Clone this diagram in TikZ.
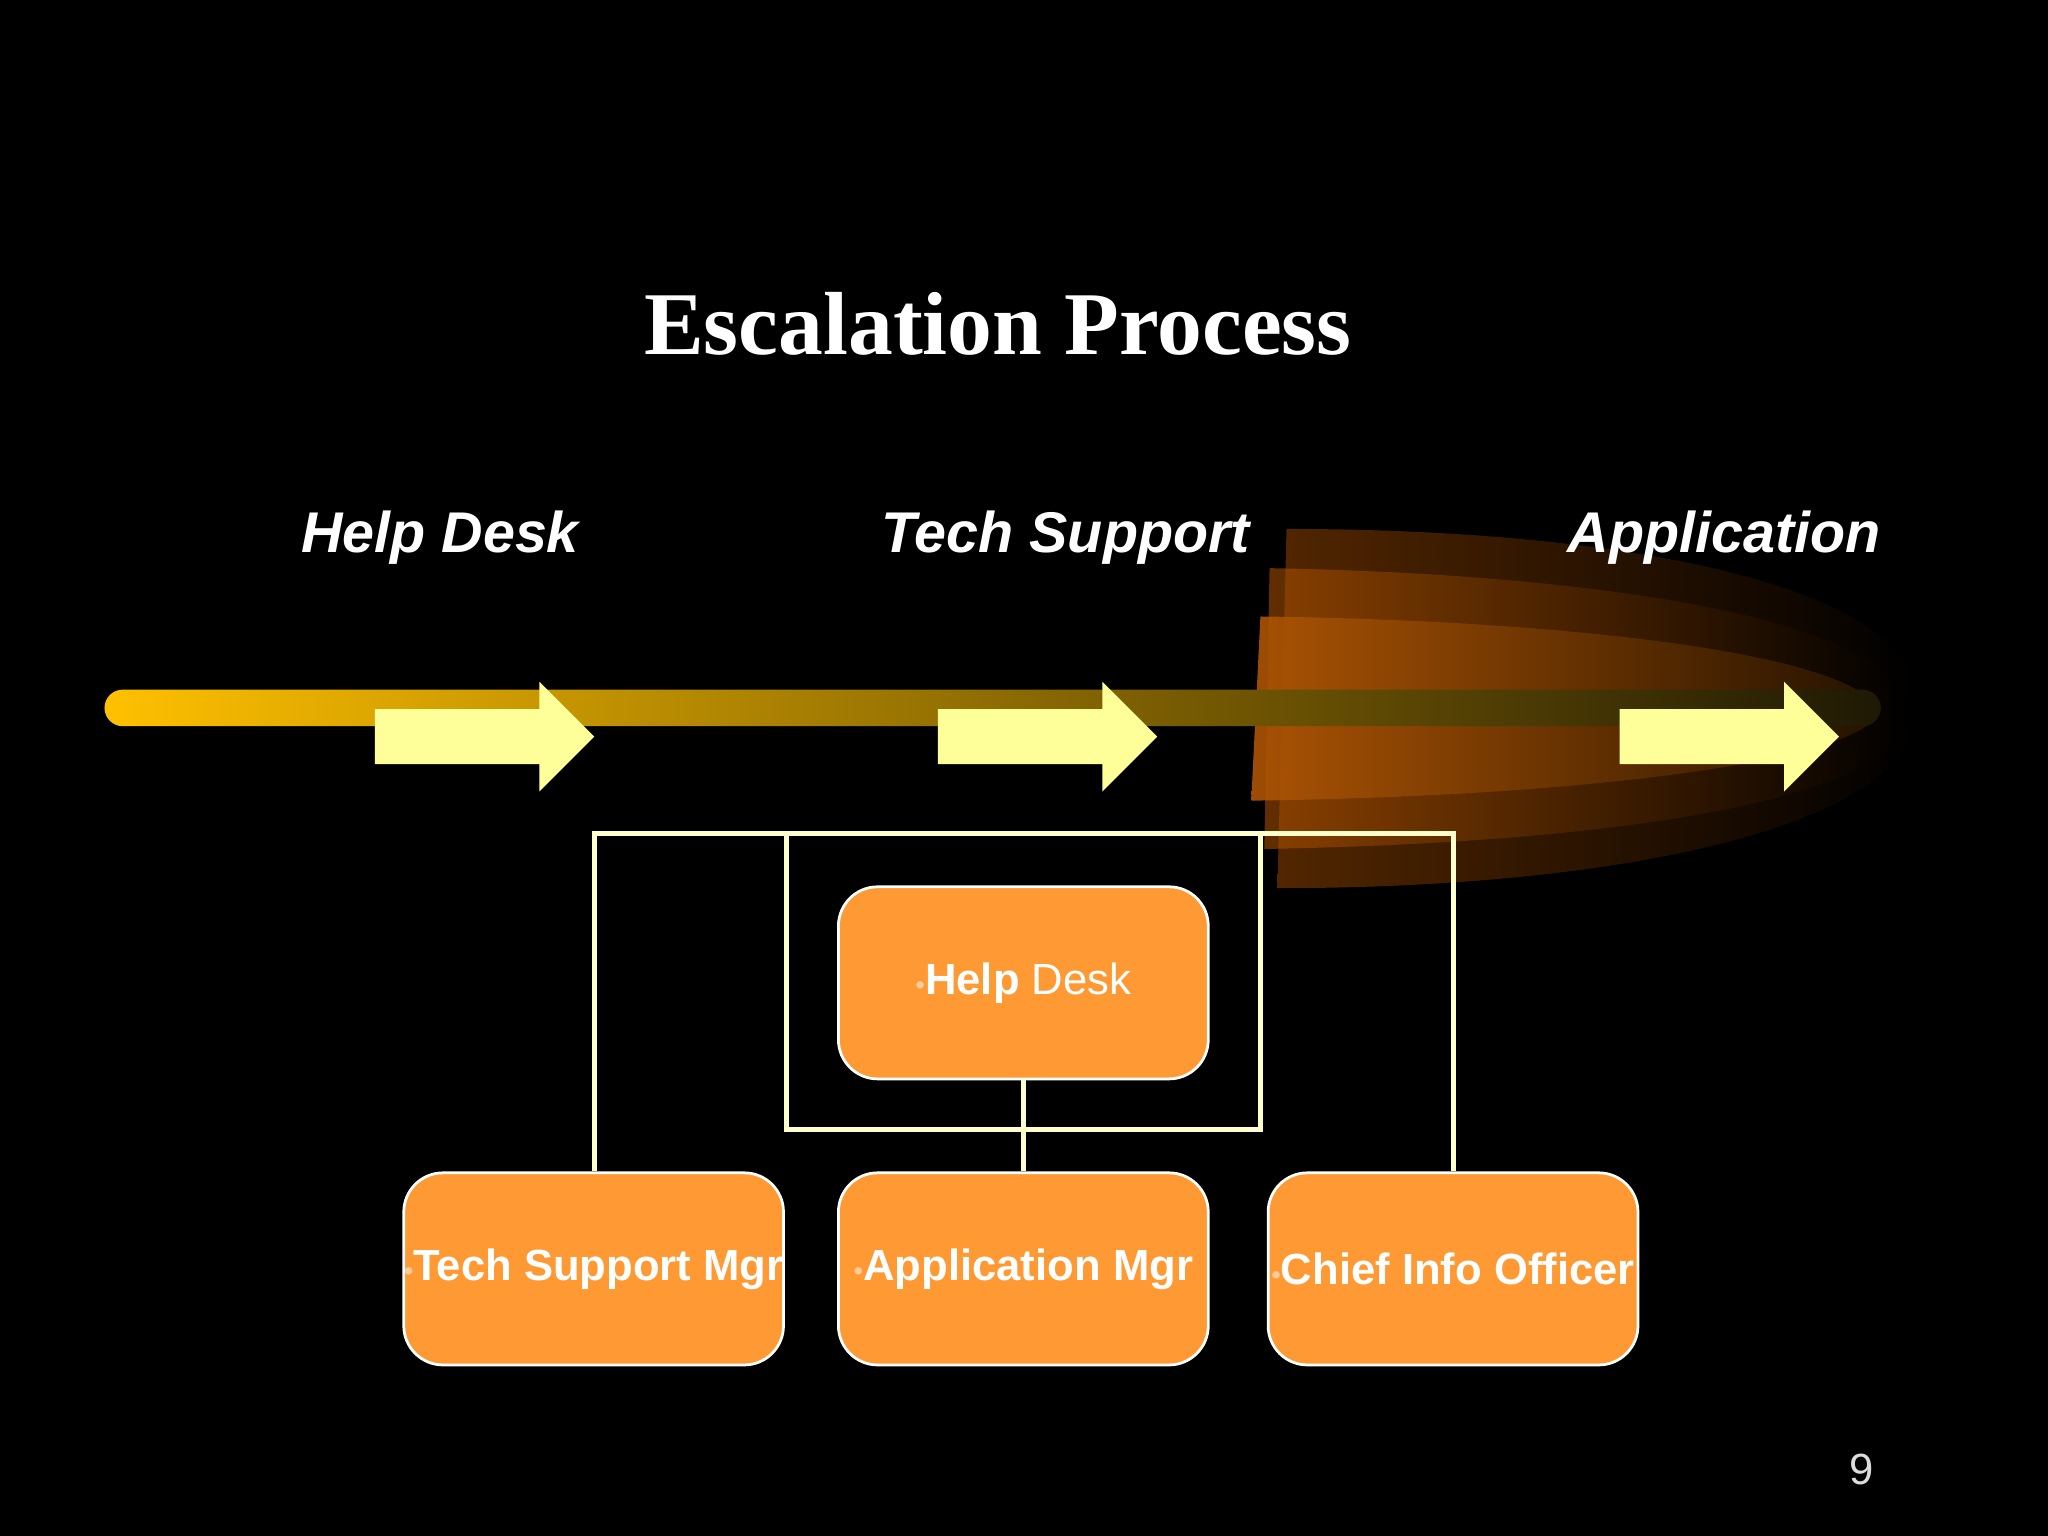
\documentclass[tikz,border=0pt]{standalone}
\usepackage{fontspec}
\setmainfont{Liberation Sans}
\newfontfamily\serifbf{Liberation Serif}
\usetikzlibrary{calc}
\definecolor{boxor}{HTML}{FF9933}
\definecolor{pale}{HTML}{FFFFCC}
\definecolor{arr}{HTML}{FFFF99}
\definecolor{bul}{HTML}{FFCC99}
\tikzset{
  box/.style={draw=white, line width=0.6pt, fill=boxor, rounded corners=0.3cm,
    minimum width=2.83cm, minimum height=1.47cm, inner sep=0pt, text=white,
    font=\fontsize{9.5}{11}\selectfont},
  conn/.style={draw=pale, line width=1.1pt},
  lbl/.style={text=white, font=\fontsize{12.5}{14}\selectfont\bfseries\itshape},
  barrow/.style={fill=arr, draw=none},
}
\newcommand{\bl}{{\color{bul}\fontsize{6}{7}\selectfont\textbullet}}
\begin{document}
\begin{tikzpicture}[x=0.01cm,y=-0.01cm]
\fill[black] (0,0) rectangle (1568,1176);
\useasboundingbox (0,0) rectangle (1568,1176);
% fan
\begin{scope}[opacity=0.55]
\shade[left color={rgb,255:red,150;green,70;blue,0}, right color=black]
 (985,405) .. controls (1250,405) and (1470,450) .. (1470,540) .. controls (1470,630) and (1250,680) .. (978,680) -- cycle;
\shade[left color={rgb,255:red,180;green,85;blue,0}, right color=black]
 (972,435) .. controls (1250,440) and (1460,480) .. (1460,545) .. controls (1460,610) and (1250,645) .. (968,650) -- cycle;
\end{scope}
\shade[left color={rgb,255:red,175;green,85;blue,5}, right color={rgb,255:red,40;green,20;blue,0}, opacity=0.9]
 (965,472) .. controls (1200,475) and (1420,500) .. (1440,545) .. controls (1420,585) and (1200,610) .. (958,613) -- cycle;
% bar
\shade[left color={rgb,255:red,255;green,192;blue,0}, right color={rgb,255:red,30;green,25;blue,5}, rounded corners=0.14cm]
 (80,528) rectangle (1440,556);
% arrows
\foreach \x in {287,718,1240}{
 \fill[barrow] (\x,543) -- (\x+126,543) -- (\x+126,522) -- (\x+168,564) -- (\x+126,606) -- (\x+126,585) -- (\x,585) -- cycle;}
% title and labels
\node[text=white, font=\serifbf\fontsize{19.5}{22}\selectfont\bfseries] (title) at (764,248) {Escalation Process};
\node[lbl] (l1) at (337,412) {Help Desk};
\node[lbl] (l2) at (816,412) {Tech Support};
\node[lbl] (l3) at (1320,412) {Application};
% boxes
\node[box] (hd) at (783.5,752.5) {\bl\textbf{Help} Desk};
\node[box] (tsm) at (454.5,971.5) {\bl\textbf{Tech Support Mgr}};
\node[box] (am) at (783.5,971.5) {\bl\textbf{Application Mgr}};
\node[box] (cio) at (1112.5,971.5) {\bl\textbf{Chief Info Officer}};
% connectors
\coordinate (o1) at (455,638);
\coordinate (o2) at (1113,638);
\draw[conn] (tsm.north -| o1) -- (o1) -- (o2) -- (cio.north -| o2);
\draw[conn] (602,638) rectangle (965,865);
\draw[conn] (hd.south) -- (am.north);
\node[text={rgb,255:red,220;green,220;blue,220}, font=\fontsize{9.5}{11}\selectfont] (pg) at (1425,1125) {9};
\end{tikzpicture}
\end{document}
